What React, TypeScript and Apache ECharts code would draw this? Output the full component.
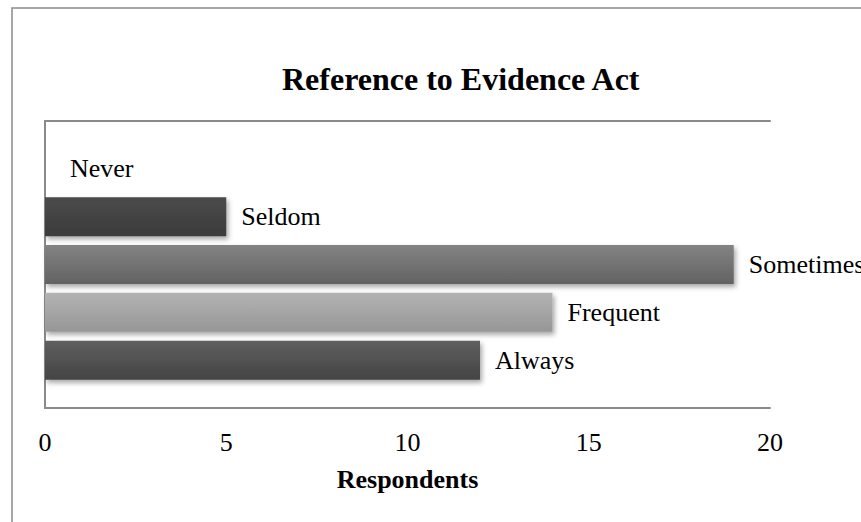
import React, { useEffect, useRef } from "react";
import * as echarts from "echarts";

// Survey responses: how often the Evidence Act is referred to
const categories = ["Never", "Seldom", "Sometimes", "Frequent", "Always"];
const respondents = [0, 5, 19, 14, 12];
const xTicks = [0, 5, 10, 15, 20];

// Vertical gradient stops (top, bottom) for each bar
const barTopColors = ["#4a4a4a", "#4b4b4b", "#838383", "#b3b3b3", "#5f5f5f"];
const barBottomColors = ["#3a3a3a", "#3b3b3b", "#626262", "#969696", "#444444"];

const FONT = "'Liberation Serif', 'Times New Roman', serif";
const BORDER = "#8a8a8a";

export default function App() {
  const ref = useRef<HTMLDivElement>(null);

  useEffect(() => {
    if (!ref.current) return;
    const chart = echarts.init(ref.current, undefined, { renderer: "svg" });

    // Empty slots above and below leave half a band of space at each end of the axis
    const yData = ["", ...categories, ""];
    const barData: any[] = [
      "-",
      ...respondents.map((v, i) => ({
        value: v,
        itemStyle: {
          color: new echarts.graphic.LinearGradient(0, 0, 0, 1, [
            { offset: 0, color: barTopColors[i] },
            { offset: 1, color: barBottomColors[i] },
          ]),
        },
        label: { distance: v === 0 ? 25 : 15 },
      })),
      "-",
    ];

    chart.setOption({
      animation: false,
      backgroundColor: "#ffffff",
      title: {
        text: "Reference to Evidence Act",
        left: 282,
        top: 63,
        padding: 0,
        textStyle: {
          fontFamily: FONT,
          fontSize: 32,
          fontWeight: "bold",
          color: "#000000",
        },
      },
      graphic: [
        {
          type: "rect",
          shape: { x: 12, y: 8, width: 900, height: 600 },
          style: { fill: "none", stroke: BORDER, lineWidth: 1.5 },
          silent: true,
        },
      ],
      grid: { left: 45, right: 91, top: 121, bottom: 114, containLabel: false },
      xAxis: [
        {
          type: "value",
          position: "bottom",
          min: xTicks[0],
          max: xTicks[xTicks.length - 1],
          interval: xTicks[1] - xTicks[0],
          axisLine: { show: true, lineStyle: { color: BORDER, width: 2 } },
          axisTick: { show: false },
          splitLine: { show: false },
          axisLabel: {
            margin: 21,
            fontFamily: FONT,
            fontSize: 26,
            color: "#000000",
          },
          name: "Respondents",
          nameLocation: "middle",
          nameGap: 58,
          nameTextStyle: {
            fontFamily: FONT,
            fontSize: 26,
            fontWeight: "bold",
            color: "#000000",
          },
        },
        {
          type: "value",
          position: "top",
          min: xTicks[0],
          max: xTicks[xTicks.length - 1],
          axisLine: { show: true, lineStyle: { color: BORDER, width: 2 } },
          axisTick: { show: false },
          splitLine: { show: false },
          axisLabel: { show: false },
        },
      ],
      yAxis: {
        type: "category",
        data: yData,
        inverse: true,
        boundaryGap: false,
        axisLine: { show: true, onZero: false, lineStyle: { color: BORDER, width: 2 } },
        axisTick: { show: false },
        axisLabel: { show: false },
        splitLine: { show: false },
      },
      series: [
        {
          type: "bar",
          xAxisIndex: 0,
          data: barData,
          barWidth: 39,
          itemStyle: {
            shadowBlur: 5,
            shadowOffsetX: 2,
            shadowOffsetY: 3,
            shadowColor: "rgba(0,0,0,0.35)",
          },
          label: {
            show: true,
            position: "right",
            formatter: (p: any) => p.name,
            fontFamily: FONT,
            fontSize: 26,
            color: "#000000",
          },
        },
      ],
    });

    return () => chart.dispose();
  }, []);

  return (
    <div
      ref={ref}
      style={{ position: "fixed", left: 0, top: 0, width: 861, height: 522 }}
    />
  );
}
